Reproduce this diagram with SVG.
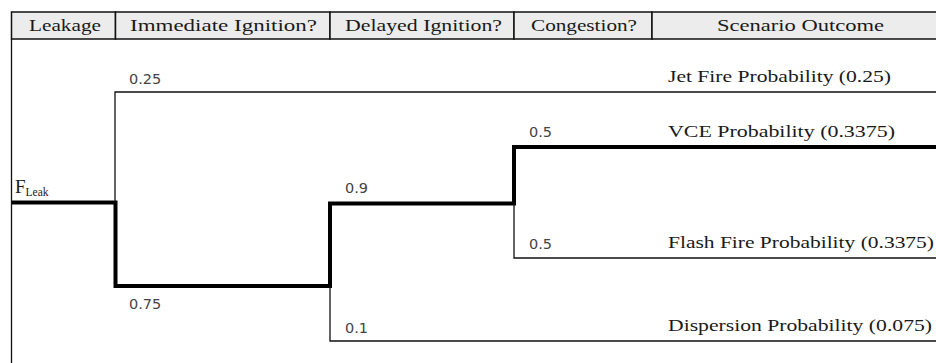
<svg xmlns="http://www.w3.org/2000/svg" width="936" height="363" viewBox="0 0 936 363">
<style>
.hdr{font-family:"Liberation Serif","Times New Roman",serif;font-size:17px;fill:#1a1a1a}
.out{font-family:"Liberation Serif","Times New Roman",serif;font-size:17px;fill:#1a1a1a}
.num{font-family:"DejaVu Sans","Liberation Sans",sans-serif;font-size:14.5px;fill:#444}
.thin{fill:none;stroke:#111;stroke-width:1.3}
.thick{fill:none;stroke:#000;stroke-width:4}
.cell{fill:#ececec;stroke:#111;stroke-width:1.5}
</style>
<rect width="936" height="363" fill="#fff"/>
<g id="header">
<rect class="cell" x="11.5" y="12" width="104" height="27"/>
<rect class="cell" x="115.5" y="12" width="214.5" height="27"/>
<rect class="cell" x="330" y="12" width="184" height="27"/>
<rect class="cell" x="514" y="12" width="138" height="27"/>
<rect class="cell" x="652" y="12" width="290" height="27"/>
<text class="hdr" x="29" y="31" textLength="72" lengthAdjust="spacingAndGlyphs">Leakage</text>
<text class="hdr" x="130" y="31" textLength="187" lengthAdjust="spacingAndGlyphs">Immediate Ignition?</text>
<text class="hdr" x="345" y="31" textLength="157" lengthAdjust="spacingAndGlyphs">Delayed Ignition?</text>
<text class="hdr" x="531" y="31" textLength="106" lengthAdjust="spacingAndGlyphs">Congestion?</text>
<text class="hdr" x="717" y="31" textLength="167" lengthAdjust="spacingAndGlyphs">Scenario Outcome</text>
</g>
<line class="thin" x1="11.5" y1="39" x2="11.5" y2="363"/>
<g id="connectors">
<path class="thick" d="M12 202.5 H115.5 V286 H330 V203.5 H514 V147 H936"/>
<path class="thin" d="M115 202 V92 H936"/>
<path class="thin" d="M514 203 V258 H936"/>
<path class="thin" d="M330 286 V341 H936"/>
</g>
<g id="n-leak">
<text x="15" y="193" font-family="Liberation Serif, serif" font-size="19" fill="#1a1a1a">F<tspan font-size="12.5" dy="3" textLength="23" lengthAdjust="spacingAndGlyphs">Leak</tspan></text>
</g>
<g id="n-labels">
<text class="num" x="129" y="84">0.25</text>
<text class="num" x="129" y="309">0.75</text>
<text class="num" x="345" y="193">0.9</text>
<text class="num" x="345" y="333">0.1</text>
<text class="num" x="529" y="137">0.5</text>
<text class="num" x="529" y="249">0.5</text>
</g>
<g id="n-jet"><text class="out" x="668" y="82" textLength="223" lengthAdjust="spacingAndGlyphs">Jet Fire Probability (0.25)</text></g>
<g id="n-vce"><text class="out" x="668" y="137" textLength="227" lengthAdjust="spacingAndGlyphs">VCE Probability (0.3375)</text></g>
<g id="n-flash"><text class="out" x="668" y="248" textLength="266" lengthAdjust="spacingAndGlyphs">Flash Fire Probability (0.3375)</text></g>
<g id="n-disp"><text class="out" x="668" y="331" textLength="264" lengthAdjust="spacingAndGlyphs">Dispersion Probability (0.075)</text></g>
</svg>
